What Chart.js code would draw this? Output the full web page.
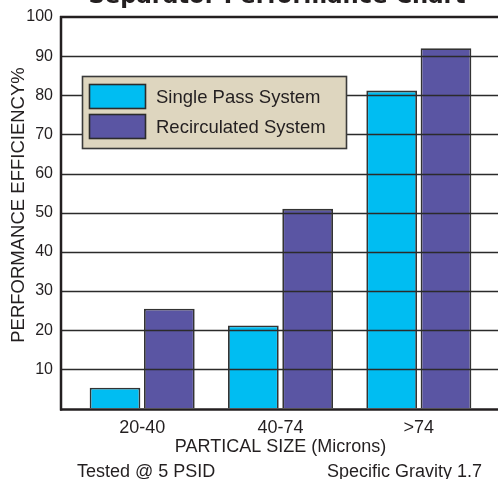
<!DOCTYPE html>
<html>
<head>
<meta charset="utf-8">
<script src="https://cdn.jsdelivr.net/npm/chart.js@4/dist/chart.umd.min.js"></script>
<style>
html,body{margin:0;padding:0;background:#fff;}
#wrap{width:498px;height:479px;position:relative;}
</style>
</head>
<body>
<div id="wrap"><canvas id="c" width="498" height="479"></canvas></div>
<script>
const chartTitle = 'Separator Performance Chart';
const categories = ['20-40', '40-74', '>74'];
const seriesNames = ['Single Pass System', 'Recirculated System'];
const singlePass = [5.3, 21.2, 81.2];
const recirculated = [25.5, 51, 92];
const yTickValues = [10, 20, 30, 40, 50, 60, 70, 80, 90, 100];
const xAxisTitle = 'PARTICAL SIZE (Microns)';
const yAxisTitle = 'PERFORMANCE EFFICIENCY%';
const footLeft = 'Tested @ 5 PSID';
const footRight = 'Specific Gravity 1.7';

const colors = ['#00BDF2', '#5A55A3'];
const FONT = '"Liberation Sans", Arial, sans-serif';
const TEXT = '#231f20';

const overlay = {
  id: 'overlay',
  afterDatasetsDraw(chart) {
    const ctx = chart.ctx;
    const y = chart.scales.y;
    const area = chart.chartArea;
    const axisX = area.left - 12;
    const W = chart.width;
    ctx.save();
    // grid lines drawn over the bars
    ctx.strokeStyle = '#2b2b2b';
    ctx.lineWidth = 1.6;
    yTickValues.forEach(v => {
      if (v >= 100) return;
      const py = Math.round(y.getPixelForValue(v)) + 0.5;
      ctx.beginPath();
      ctx.moveTo(axisX, py);
      ctx.lineTo(W, py);
      ctx.stroke();
    });
    // top frame line
    ctx.lineWidth = 2.5;
    ctx.strokeStyle = '#231f20';
    const top = y.getPixelForValue(100);
    ctx.beginPath(); ctx.moveTo(axisX - 1, top); ctx.lineTo(W, top); ctx.stroke();
    // bottom axis
    const bot = y.getPixelForValue(0) + 1;
    ctx.beginPath(); ctx.moveTo(axisX - 1, bot); ctx.lineTo(W, bot); ctx.stroke();
    // left axis
    ctx.beginPath(); ctx.moveTo(axisX, top - 1); ctx.lineTo(axisX, bot + 1); ctx.stroke();

    // legend
    const lx = 82, ly = 76, lw = 264, lh = 72;
    ctx.fillStyle = '#DED6BF';
    ctx.fillRect(lx, ly, lw, lh);
    ctx.lineWidth = 1.6;
    ctx.strokeStyle = '#3a3a3a';
    ctx.strokeRect(lx + 0.5, ly + 0.5, lw, lh);
    chart.data.datasets.forEach((ds, i) => {
      const sy = 84 + i * 30;
      ctx.fillStyle = ds.backgroundColor;
      ctx.fillRect(89, sy, 57, 24);
      ctx.lineWidth = 1.6;
      ctx.strokeStyle = '#2b2b2b';
      ctx.strokeRect(89.5, sy + 0.5, 56, 24);
      ctx.fillStyle = TEXT;
      ctx.font = '18.5px ' + FONT;
      ctx.textAlign = 'left';
      ctx.textBaseline = 'alphabetic';
      ctx.fillText(ds.label, 156, sy + 19);
    });

    // title (cut off at top)
    ctx.font = 'bold 22.7px "DejaVu Sans", Verdana, sans-serif';
    ctx.textAlign = 'center';
    ctx.textBaseline = 'alphabetic';
    ctx.fillStyle = TEXT;
    ctx.fillText(chartTitle, 277, 3);

    // y axis title
    ctx.save();
    ctx.translate(18.5, 205);
    ctx.rotate(-Math.PI / 2);
    ctx.font = '18.5px ' + FONT;
    ctx.textAlign = 'center';
    ctx.textBaseline = 'middle';
    ctx.fillText(yAxisTitle, 0, 0);
    ctx.restore();

    // footnotes
    ctx.font = '18px ' + FONT;
    ctx.textAlign = 'left';
    ctx.textBaseline = 'alphabetic';
    ctx.fillText(footLeft, 77, 477);
    ctx.textAlign = 'right';
    ctx.fillText(footRight, 482, 477);
    ctx.restore();
  }
};

new Chart(document.getElementById('c'), {
  type: 'bar',
  data: {
    labels: categories,
    datasets: [
      { label: seriesNames[0], data: singlePass, backgroundColor: colors[0], borderColor: '#333333', borderWidth: 1.8 },
      { label: seriesNames[1], data: recirculated, backgroundColor: colors[1], borderColor: '#333333', borderWidth: 1.8 }
    ]
  },
  options: {
    responsive: false,
    animation: false,
    devicePixelRatio: 1,
    layout: { padding: { top: 17, right: 10, bottom: 0, left: 0 } },
    plugins: { legend: { display: false }, tooltip: { enabled: false }, title: { display: false } },
    datasets: { bar: { categoryPercentage: 0.785, barPercentage: 0.934 } },
    scales: {
      x: {
        grid: { display: false, drawTicks: false },
        border: { display: false },
        ticks: { color: TEXT, font: { family: FONT, size: 18 }, padding: 9 },
        title: { display: true, text: xAxisTitle, color: TEXT, font: { family: FONT, size: 18 }, padding: { top: 0, bottom: 21 } },
        afterFit(s) { s.height = 70.5; s.paddingLeft = 0; s.paddingRight = 0; }
      },
      y: {
        min: 0, max: 100,
        grid: { display: false, drawTicks: false },
        border: { display: false },
        afterBuildTicks(s) { s.ticks = yTickValues.map(v => ({ value: v })); },
        ticks: { color: TEXT, font: { family: FONT, size: 16 }, padding: 20 },
        afterFit(s) { s.width = 73; s.paddingTop = 0; s.paddingBottom = 0; }
      }
    }
  },
  plugins: [overlay]
});
</script>
</body>
</html>
